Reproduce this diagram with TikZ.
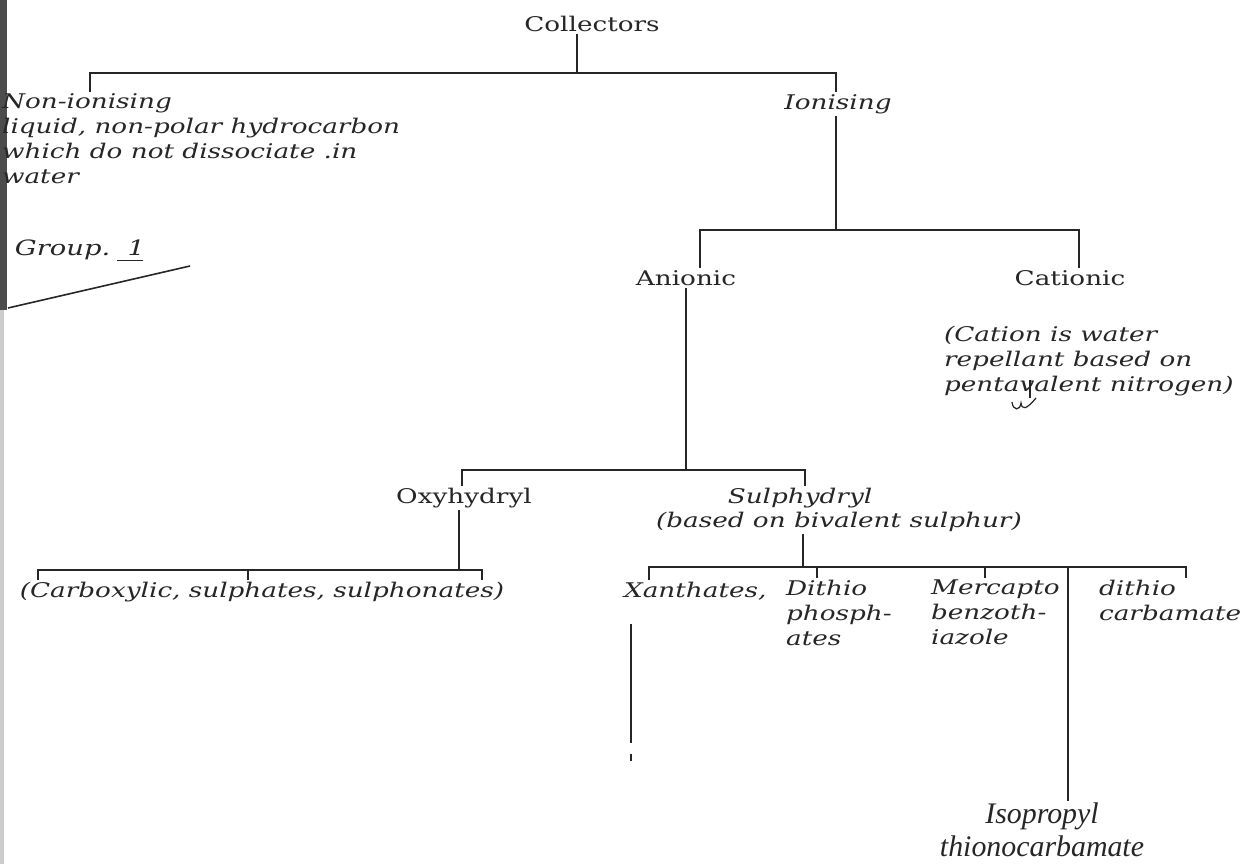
\documentclass[tikz,border=0pt]{standalone}
\usepackage{fontspec}
\usepackage{tikz}
\usetikzlibrary{calc}
\usetikzlibrary{positioning}
\setmainfont{DejaVu Serif}[FakeStretch=1.3]
\newfontfamily\isofont{Liberation Serif}
\definecolor{ink}{HTML}{262626}

\tikzset{
  lbl/.style={font=\fontsize{11.5}{14.2}\selectfont, text=ink, inner sep=1pt},
  ilbl/.style={lbl, font=\fontsize{11.5}{14.2}\selectfont\itshape},
  blk/.style={ilbl, align=left, anchor=north west},
  wire/.style={draw=ink, line width=0.9pt},
}

\begin{document}
\begin{tikzpicture}[x=0.02cm,y=-0.02cm]
\useasboundingbox (0,0) rectangle (1254,864);

% scanned page edge
\fill[black!70] (0,0) rectangle (7,310);
\fill[black!20] (0,310) rectangle (4,864);

% top level
\node[lbl] (coll) at (592,24) {Collectors};
\node[blk] (nonion) at (0,92) {Non-ionising\\liquid, non-polar hydrocarbon\\which do not dissociate .in\\water};
\node[ilbl] (ion) at (838,104) {Ionising};

\coordinate (c0) at (577,73);
\coordinate (b1l) at (90,73);
\coordinate (b1r) at (836,73);
\draw[wire] (coll.south -| c0) -- (c0);
\draw[wire] (nonion.north -| b1l) -- (b1l) -- (b1r) -- (ion.north -| b1r);

% handwritten note
\node[ilbl, font=\fontsize{12}{14}\selectfont\itshape] (grp) at (80,250) {Group.\ \ 1};
\draw[wire, line width=0.7pt] ($(grp.south east)+(-30,-2)$) -- ($(grp.south east)+(-4,-2)$);
\coordinate (gl) at (8,308);
\draw[wire] (gl) -- (190,266);

% ionising
\node[lbl] (anio) at (686,278) {Anionic};
\node[lbl] (catio) at (1070,278) {Cationic};
\node[blk] (catnote) at (942,324) {(Cation is water\\repellant based on\\pentavalent nitrogen)};

\coordinate (b2l) at (700,230);
\coordinate (b2r) at (1079,230);
\draw[wire] (ion.south -| b1r) -- (b1r |- b2l);
\draw[wire] (anio.north -| b2l) -- (b2l) -- (b2r) -- (catio.north -| b2r);

% scribble under the cationic note
\draw[wire, line width=0.7pt] (1030,380) -- (1030,398);
\draw[wire, line width=0.7pt] (1012,402) .. controls (1013,411) and (1020,411) .. (1021,403)
  .. controls (1022,410) and (1026,410) .. (1036,398);

% anionic
\node[lbl] (oxy) at (464,498) {Oxyhydryl};
\node[ilbl] (sulph) at (800,498) {Sulphydryl};
\node[ilbl, anchor=west] (sulphnote) at (654,522) {(based on bivalent sulphur)};

\coordinate (b3l) at (462,470);
\coordinate (b3r) at (805,470);
\draw[wire] (anio.south) -- (anio.south |- b3l);
\draw[wire] (oxy.north -| b3l) -- (b3l) -- (b3r) -- (sulph.north -| b3r);

% oxyhydryl
\node[ilbl] (carbox) at (262,592) {(Carboxylic, sulphates, sulphonates)};
\coordinate (o0) at (459,570);
\coordinate (b4l) at (38,570);
\coordinate (b4m) at (248,570);
\coordinate (b4r) at (482,570);
\draw[wire] (oxy.south -| o0) -- (o0);
\draw[wire] (carbox.north -| b4l) -- (b4l) -- (b4r) -- (carbox.north -| b4r);
\draw[wire] (b4m) -- (carbox.north -| b4m);

% sulphydryl
\node[ilbl, anchor=west] (xan) at (622,591) {Xanthates,};
\node[blk] (dithp) at (784,578) {Dithio\\phosph-\\ates};
\node[blk] (merc) at (929,578) {Mercapto\\benzoth-\\iazole};
\node[blk] (dithc) at (1097,578) {dithio\\carbamate};
\node[font=\isofont\fontsize{17}{18.5}\selectfont\itshape, text=ink, inner sep=1pt, align=center]
  (isop) at (1042,830) {Isopropyl\\thionocarbamate};

\coordinate (s0) at (803,567);
\coordinate (b5l) at (649,567);
\coordinate (b5d) at (817,567);
\coordinate (b5m) at (985,567);
\coordinate (b5i) at (1068,567);
\coordinate (b5r) at (1186,567);
\draw[wire] (sulphnote.south -| s0) -- (s0);
\draw[wire] (xan.north -| b5l) -- (b5l) -- (b5r) -- (dithc.north -| b5r);
\draw[wire] (b5d) -- (dithp.north -| b5d);
\draw[wire] (b5m) -- (merc.north -| b5m);
\draw[wire] (b5i) -- (isop.north -| b5i);

\coordinate (xl) at (631,770);
\draw[wire] ($(xan.south -| xl)+(0,22)$) -- ($(xl)+(0,-34)$);
\draw[wire, dash pattern=on 4pt off 6pt] ($(xl)+(0,-34)$) -- (xl);

\end{tikzpicture}
\end{document}
